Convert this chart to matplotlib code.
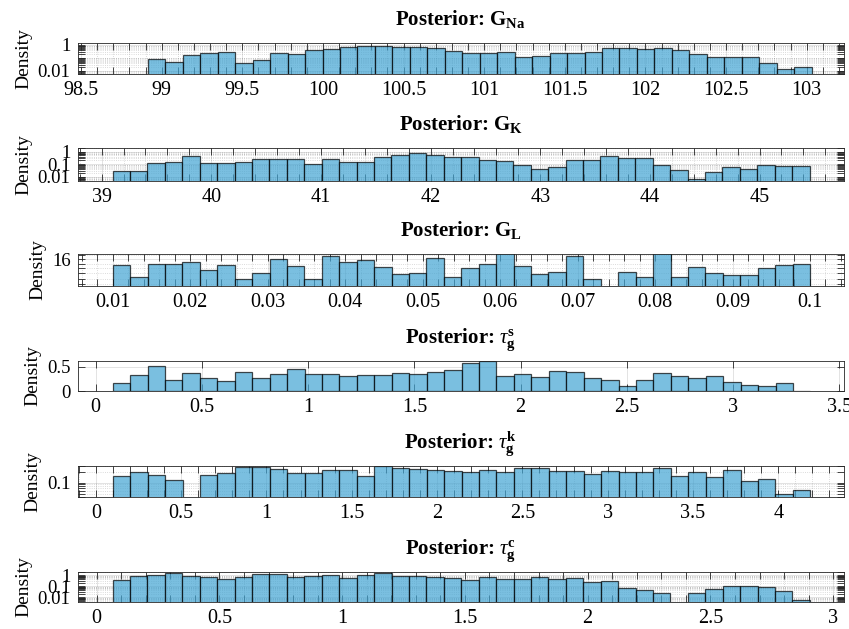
import numpy as np
import matplotlib
matplotlib.use('Agg')
import matplotlib.pyplot as plt
from matplotlib import ticker

plt.rcParams['font.family'] = 'Liberation Serif'
plt.rcParams['font.size'] = 14.5
plt.rcParams['mathtext.fontset'] = 'custom'
plt.rcParams['mathtext.rm'] = 'Liberation Serif'
plt.rcParams['mathtext.it'] = 'Liberation Serif:italic'
plt.rcParams['mathtext.bf'] = 'Liberation Serif:bold'

# ---- data (densities per bin) ----
gna_bin_start, gna_bin_width = 98.698, 0.1083
gna_density = [0, 0, 0.077, 0.045, 0.16, 0.22, 0.27, 0.037, 0.068, 0.24,
               0.19, 0.41, 0.49, 0.74, 0.79, 0.79, 0.66, 0.74, 0.55, 0.36,
               0.22, 0.22, 0.27, 0.11, 0.15, 0.22, 0.25, 0.27, 0.62, 0.60,
               0.52, 0.62, 0.43, 0.20, 0.11, 0.12, 0.11, 0.037, 0.014, 0.018]

gk_bin_start, gk_bin_width = 39.10, 0.1589
gk_density = [0.027, 0.030, 0.12, 0.16, 0.48, 0.12, 0.12, 0.16, 0.25, 0.28,
              0.25, 0.098, 0.25, 0.14, 0.14, 0.36, 0.51, 0.74, 0.51, 0.40,
              0.36, 0.21, 0.17, 0.081, 0.044, 0.056, 0.22, 0.23, 0.43, 0.30,
              0.33, 0.086, 0.032, 0.0069, 0.022, 0.063, 0.044, 0.091, 0.068, 0.075]

gl_bin_start, gl_bin_width = 0.01, 0.00225
gl_density = [14.7, 12.2, 14.8, 15.0, 15.3, 13.6, 14.7, 12.0, 13.0, 16.0,
              14.5, 11.9, 16.8, 15.4, 15.7, 14.3, 12.8, 13.0, 16.2, 12.2,
              14.0, 15.0, 17.5, 14.5, 12.8, 13.3, 16.8, 11.9, 0, 13.2,
              12.2, 17.5, 12.2, 14.3, 13.1, 12.7, 12.6, 14.0, 14.7, 14.9]

taus_bin_start, taus_bin_width = 0.080, 0.0821
taus_density = [0.163, 0.325, 0.508, 0.224, 0.378, 0.264, 0.203, 0.392, 0.264, 0.345,
                0.447, 0.358, 0.358, 0.305, 0.325, 0.325, 0.366, 0.345, 0.386, 0.44,
                0.569, 0.622, 0.305, 0.358, 0.285, 0.406, 0.392, 0.264, 0.224, 0.114,
                0.224, 0.366, 0.318, 0.264, 0.305, 0.196, 0.122, 0.101, 0.169, 0.012]

tauk_bin_start, tauk_bin_width = 0.0997, 0.1022
tauk_density = [0.152, 0.204, 0.168, 0.122, 0, 0.162, 0.184, 0.27, 0.27, 0.247,
                0.191, 0.191, 0.227, 0.232, 0.152, 0.30, 0.254, 0.238, 0.227, 0.217,
                0.196, 0.232, 0.204, 0.264, 0.254, 0.217, 0.209, 0.173, 0.217, 0.196,
                0.204, 0.254, 0.158, 0.196, 0.142, 0.223, 0.115, 0.127, 0.0495, 0.063]

tauc_bin_start, tauc_bin_width = 0.065, 0.0710
tauc_density = [0.35, 0.87, 0.93, 1.4, 0.87, 0.70, 0.40, 0.62, 1.15, 1.15,
                0.70, 0.87, 1.07, 0.50, 1.07, 1.4, 0.87, 0.87, 0.70, 0.50,
                0.38, 0.70, 0.40, 0.46, 0.62, 0.40, 0.50, 0.25, 0.29, 0.062,
                0.041, 0.025, 0, 0.021, 0.057, 0.107, 0.093, 0.076, 0.038, 0.005]

titles = ['Posterior: $\\mathbf{G_{Na}}$',
          'Posterior: $\\mathbf{G_{K}}$',
          'Posterior: $\\mathbf{G_{L}}$',
          'Posterior: $\\tau_{\\mathbf{g}}^{\\mathbf{s}}$',
          'Posterior: $\\tau_{\\mathbf{g}}^{\\mathbf{k}}$',
          'Posterior: $\\tau_{\\mathbf{g}}^{\\mathbf{c}}$']

x_ticks = [np.arange(98.5, 103.01, 0.5), np.arange(39, 45.01, 1),
           np.arange(0.01, 0.1001, 0.01), np.arange(0, 3.51, 0.5),
           np.arange(0, 4.01, 0.5), np.arange(0, 3.01, 0.5)]
y_ticks = [[0.01, 1], [0.01, 0.1, 1], [16], [0, 0.5], [0.1], [0.01, 0.1, 1]]

panels = [
    (gna_bin_start, gna_bin_width, gna_density, 'log', (98.478, 103.231), (0.0055, 1.5)),
    (gk_bin_start, gk_bin_width, gk_density, 'log', (38.78, 45.77), (0.0048, 2.1)),
    (gl_bin_start, gl_bin_width, gl_density, 'log', (0.00546, 0.10439), (10.8, 17.2)),
    (taus_bin_start, taus_bin_width, taus_density, 'linear', (-0.0857, 3.522), (0, 0.62)),
    (tauk_bin_start, tauk_bin_width, tauk_density, 'log', (-0.107, 4.385), (0.04, 0.3)),
    (tauc_bin_start, tauc_bin_width, tauc_density, 'log', (-0.078, 3.044), (0.0033, 2.0)),
]

# axes placement in pixels (top, bottom) on an 849 x 629 canvas
W, H = 849, 629
left_px, right_px = 77.5, 844
rows_px = [(42.7, 74.0), (147.7, 180.7), (254.3, 285.7),
           (360.7, 391.3), (465.7, 497.0), (571.7, 602.3)]

face = '#42A4D3'
axis_col = '#262626'

fig = plt.figure(figsize=(W / 100, H / 100), dpi=100)

fmt = ticker.FuncFormatter(lambda v, p: f'{v:g}')

for i, (start, width, dens, yscale, xlim, ylim) in enumerate(panels):
    top, bot = rows_px[i]
    ax = fig.add_axes([left_px / W, 1 - bot / H, (right_px - left_px) / W, (bot - top) / H])
    ax.set_yscale(yscale)
    dens = np.array(dens, dtype=float)
    edges = start + width * np.arange(len(dens) + 1)
    ax.bar(edges[:-1], dens, width=width, align='edge', color=face, alpha=0.7,
           edgecolor='black', linewidth=0.9)
    ax.set_xlim(*xlim)
    ax.set_ylim(*ylim)
    ax.set_xticks(x_ticks[i])
    ax.xaxis.set_major_formatter(fmt)
    ax.set_yticks(y_ticks[i])
    ax.yaxis.set_major_formatter(fmt)
    if yscale == 'log':
        if i == 2:
            ax.yaxis.set_minor_locator(ticker.MultipleLocator(1))
        else:
            ax.yaxis.set_minor_locator(ticker.LogLocator(base=10, subs=np.arange(1, 10), numticks=20))
        ax.yaxis.set_minor_formatter(ticker.NullFormatter())
        ax.xaxis.set_minor_locator(ticker.AutoMinorLocator(5))
        ax.grid(True, which='minor', color=axis_col, alpha=0.22, linestyle=':', linewidth=0.6)
    ax.grid(True, which='major', color=axis_col, alpha=0.15, linewidth=0.6)
    ax.set_axisbelow(True)
    ax.tick_params(which='both', direction='in', top=True, right=True,
                   length=5, width=0.6, color=axis_col, pad=5)
    ax.tick_params(axis='y', labelsize=13.5)
    for s in ax.spines.values():
        s.set_color(axis_col)
        s.set_linewidth(0.6)
    # title baseline sits about 18 px above the top of the axes
    ax.annotate(titles[i], xy=(0.5, 1), xycoords='axes fraction',
                xytext=(0, 13), textcoords='offset points',
                ha='center', va='baseline', fontweight='bold', fontsize=15)
    ax.set_ylabel('Density', labelpad=4, fontsize=14)

fig.savefig('out.png', dpi=100)
